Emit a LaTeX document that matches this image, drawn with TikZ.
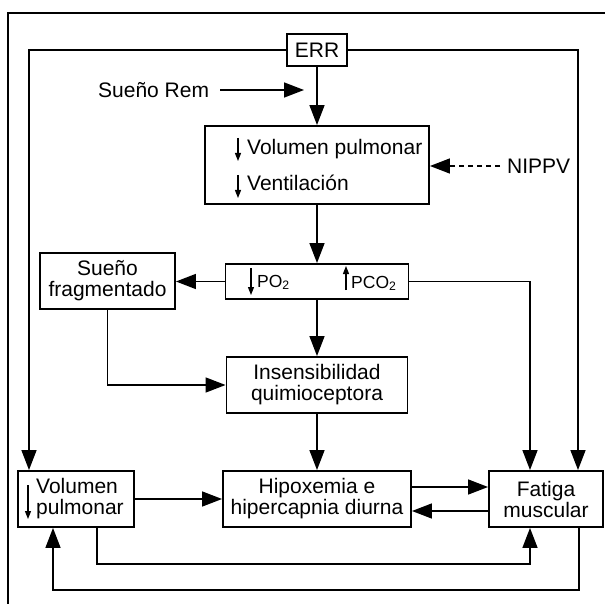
\documentclass[tikz,border=0pt]{standalone}
\usepackage{fontspec}
\setmainfont{Liberation Sans}
\usetikzlibrary{arrows.meta,calc}
\newcommand\myfs{\fontsize{21}{21}\selectfont}
\newcommand\smfs{\fontsize{17.5}{17.5}\selectfont}
\begin{document}
\begin{tikzpicture}[x=1pt,y=-1pt,
  box/.style={draw, line width=1.9pt, inner sep=0pt, align=center, font=\myfs},
  conn/.style={line width=1.5pt, -{Triangle[length=20pt,width=15pt]}},
  tinyarr/.style={line width=1.3pt, -{Triangle[length=8pt,width=6pt]}},
  txt/.style={inner sep=0pt, font=\myfs}]
\useasboundingbox (0,0) rectangle (605,604);
% outer frame (cropped)
\draw[line width=1.8pt] (8,604) -- (8,13) -- (605,13);

% nodes
\node[box, minimum width=60pt, minimum height=32pt] (err) at (317,50) {ERR};
\node[box, minimum width=224pt, minimum height=78pt] (b1) at (317,165) {};
\node[box, minimum width=183pt, minimum height=35pt] (b2) at (317,281.5) {};
\node[box, minimum width=135pt, minimum height=56pt] (sf) at (107.5,281) {Sueño\\fragmentado};
\node[box, minimum width=181pt, minimum height=56pt] (ins) at (317,385) {Insensibilidad\\quimioceptora};
\node[box, minimum width=188pt, minimum height=56pt] (hip) at (317,499) {Hipoxemia e\\hipercapnia diurna};
\node[box, minimum width=116pt, minimum height=56pt] (vol) at (76,499) {};
\node[box, minimum width=114pt, minimum height=56pt] (fat) at (546,499) {Fatiga\\muscular};

% texts
\node[txt, anchor=west] (srem) at (98,90) {Sueño Rem};
\coordinate (remtip) at (304,90);
\node[txt, anchor=west] (nippv) at (507,166) {NIPPV};
\node[txt, anchor=base west] (v1) at (247,155) {Volumen pulmonar};
\node[txt, anchor=base west] (v2) at (247,191) {Ventilación};
\node[inner sep=0pt, font=\smfs, anchor=base west] (po) at (257,287) {PO\textsubscript{2}};
\node[inner sep=0pt, font=\smfs, anchor=base west] (pco) at (351,288) {PCO\textsubscript{2}};
\node[txt, anchor=west, align=left] (voltx) at (36,499) {Volumen\\pulmonar};

% small glyph arrows
\draw[tinyarr] (238,138) -- (238,161);
\draw[tinyarr] (238,175) -- (238,198);
\draw[tinyarr] (251,268) -- (251,295);
\draw[tinyarr] (346,290) -- (346,266);
\draw[tinyarr] (28,485) -- (28,519);

% connectors
\draw[conn] ([xshift=11pt]srem.east) -- (remtip);
\draw[conn] (err.south) -- (b1.north);
\draw[conn, dash pattern=on 5pt off 4pt] ([xshift=-7pt]nippv.west) -- (b1.east |- nippv.west);
\draw[conn] (b1.south) -- (b2.north);
\draw[conn] (b2.west) -- (b2.west -| sf.east);
\draw[conn] (b2.south) -- (ins.north);
\draw[conn] (sf.south) |- (ins.west);
\draw[conn] (ins.south) -- (hip.north);
\draw[conn] (err.west) -| ([xshift=-47pt]vol.north);
\draw[conn] (err.east) -| ([xshift=32pt]fat.north);
\draw[conn] (b2.east) -| ([xshift=-16pt]fat.north);
\draw[conn] (vol.east) -- (hip.west);
\draw[conn] ([yshift=12pt]hip.east) -- ([yshift=12pt]hip.east -| fat.west);
\draw[conn] ([yshift=-12pt]fat.west) -- ([yshift=-12pt]fat.west -| hip.east);
\draw[conn] ([xshift=21pt]vol.south) |- ($([xshift=-16pt]fat.south)+(0,36)$) -- ([xshift=-16pt]fat.south);
\draw[conn] ([xshift=33pt]fat.south) |- ($([xshift=-23pt]vol.south)+(0,62)$) -- ([xshift=-23pt]vol.south);
\end{tikzpicture}
\end{document}
